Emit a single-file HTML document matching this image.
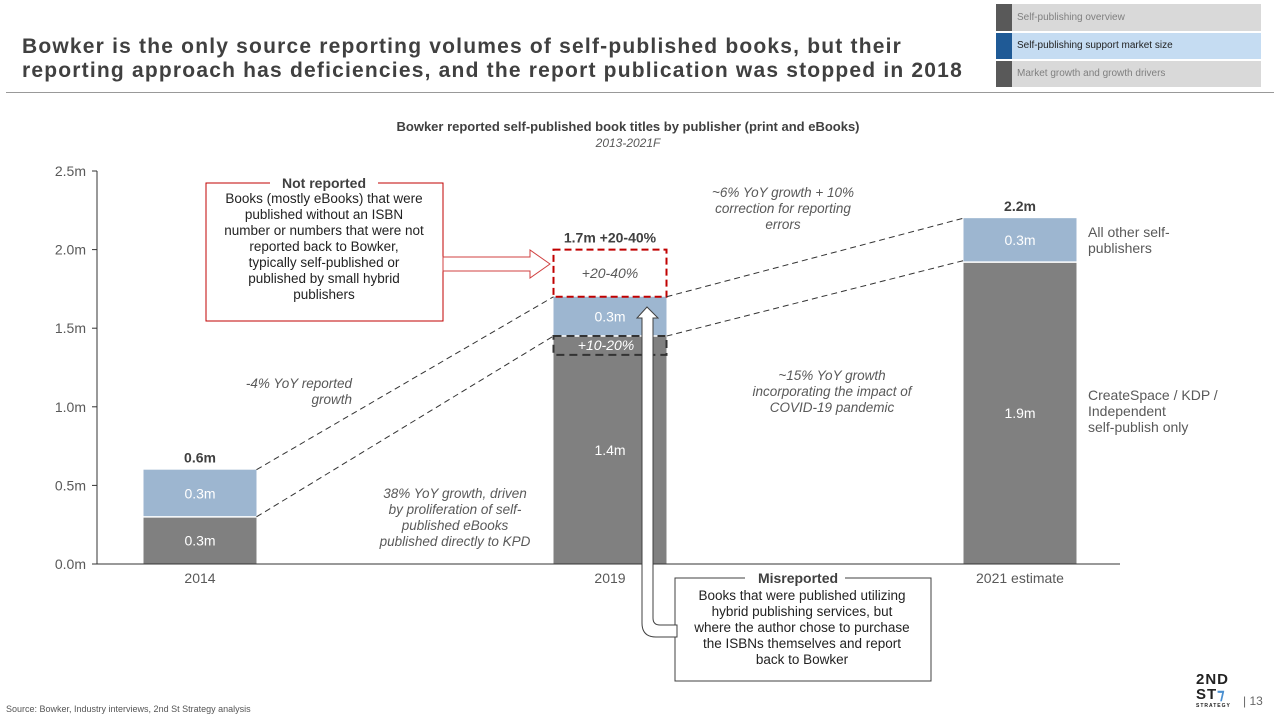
<!DOCTYPE html>
<html><head><meta charset="utf-8"><style>
body{margin:0;width:1280px;height:720px;background:#fff;font-family:"Liberation Sans",Arial,sans-serif;overflow:hidden;position:relative}
.a{position:absolute}
</style></head><body>
<div class="a" style="left:22px;top:35px;font-size:21px;letter-spacing:1.2px;font-weight:bold;color:#404040;line-height:24px;width:970px;white-space:nowrap">Bowker is the only source reporting volumes of self-published books, but their<br>reporting approach has deficiencies, and the report publication was stopped in 2018</div>
<div class="a" style="left:996px;top:4px;width:265px">
 <div style="height:27px;background:#d9d9d9;border-left:16px solid #595959;margin-bottom:2px;font-size:10px;color:#7f7f7f;line-height:27px;padding-left:5px">Self-publishing overview</div>
 <div style="height:26px;background:#c5dcf2;border-left:16px solid #1f5a96;margin-bottom:2px;font-size:10px;color:#222;line-height:26px;padding-left:5px">Self-publishing support market size</div>
 <div style="height:26px;background:#d9d9d9;border-left:16px solid #595959;font-size:10px;color:#7f7f7f;line-height:26px;padding-left:5px">Market growth and growth drivers</div>
</div>
<div class="a" style="left:6px;top:92px;width:1268px;height:1px;background:#999"></div>
<svg class="a" style="left:0;top:0" width="1280" height="720" id="ch" font-family="Liberation Sans, Arial, sans-serif"></svg>
<div class="a" style="left:6px;top:704px;font-size:9px;color:#555">Source: Bowker, Industry interviews, 2nd St Strategy analysis</div>
<div class="a" style="left:1196px;top:672px;font-weight:bold;color:#222;font-size:15px;line-height:15px;letter-spacing:1px">2ND<br>ST<span style="color:#4a8fd0">⁊</span><div style="font-size:5px;line-height:8px;letter-spacing:1px">STRATEGY</div></div>
<div class="a" style="left:1243px;top:694px;font-size:12px;color:#666">| 13</div>
<script>
const categories=["2014","2019","2021 estimate"];
const coreValues=[0.3,1.45,1.92];
const otherValues=[0.3,0.25,0.28];
const coreLabels=["0.3m","1.4m","1.9m"];
const otherLabels=["0.3m","0.3m","0.3m"];
const totalLabels=["0.6m","1.7m +20-40%","2.2m"];
const ticks=[0,0.5,1.0,1.5,2.0,2.5];
const tickLabels=["0.0m","0.5m","1.0m","1.5m","2.0m","2.5m"];
const notReported=[0,0.3,0];
const misreportedBand=[0,0.12,0];
const svg=document.getElementById('ch');const NS='http://www.w3.org/2000/svg';
const y=v=>564-v*157.2;const xc=i=>[200,610,1020][i];const bw=113;
function mk(t,a,p){const e=document.createElementNS(NS,t);for(const k in a)e.setAttribute(k,a[k]);(p||svg).appendChild(e);return e;}
function tx(s,x,yy,o){const e=mk('text',Object.assign({x:x,y:yy,'font-size':13,fill:'#595959','text-anchor':'middle'},o||{}));e.textContent=s;return e;}
let e;
e=tx('Bowker reported self-published book titles by publisher (print and eBooks)',628,131,{'font-weight':'bold','font-size':13,fill:'#404040'});


e=tx('2013-2021F',628,147,{'font-style':'italic','font-size':12});


e=mk('line',{x1:97,x2:97,y1:171,y2:564,stroke:'#333'});


ticks.forEach((t,i)=>{
 e=mk('line',{x1:92,x2:97,y1:y(t),y2:y(t),stroke:'#333'});
 
 
 e=tx(tickLabels[i],86,y(t)+5,{'text-anchor':'end','font-size':14});
 
 
});
categories.forEach((c,i)=>{
 const x0=xc(i)-bw/2;
 e=mk('rect',{x:x0,y:y(coreValues[i]),width:bw,height:y(0)-y(coreValues[i]),fill:'#808080'});
 
 
 const top=coreValues[i]+otherValues[i];
 e=mk('rect',{x:x0,y:y(top),width:bw,height:y(coreValues[i])-y(top),fill:'#9db6d0'});
 
 
 mk('line',{x1:x0,x2:x0+bw,y1:y(coreValues[i]),y2:y(coreValues[i]),stroke:'#fff','stroke-width':1.5});
 e=tx(coreLabels[i],xc(i),(y(coreValues[i])+y(0))/2+5,{fill:'#fff',"font-size":14});
 if(i==1)e.setAttribute('y',455);
 
 
 e=tx(otherLabels[i],xc(i),(y(top)+y(coreValues[i]))/2+5,{fill:'#fff','font-size':14});
 
 
 const ty=notReported[i]?y(top+notReported[i])-7:y(top)-7;
 e=tx(totalLabels[i],xc(i),ty,{'font-weight':'bold','font-size':14,fill:'#404040'});
 
 
 e=tx(c,xc(i),583,{'font-size':14});
 
 
 if(notReported[i]){
  e=mk('rect',{x:x0,y:y(top+notReported[i]),width:bw,height:y(top)-y(top+notReported[i]),fill:'none',stroke:'#c00000','stroke-width':2,'stroke-dasharray':'7,4'});
  
  
  tx('+20-40%',xc(i),(y(top)+y(top+notReported[i]))/2+5,{'font-style':'italic','font-size':14});
 }
 if(misreportedBand[i]){
  e=mk('rect',{x:x0,y:y(coreValues[i]),width:bw,height:y(coreValues[i]-misreportedBand[i])-y(coreValues[i]),fill:'none',stroke:'#333','stroke-width':2,'stroke-dasharray':'8,5'});
  
  
  tx('+10-20%',xc(i)-4,y(coreValues[i])+14,{'font-style':'italic','font-size':14,fill:'#fff'});
 }
});
e=mk('line',{x1:97,x2:1120,y1:564,y2:564,stroke:'#333'});


function dl(i,j,vi,vj){e=mk('line',{x1:xc(i)+bw/2,y1:y(vi),x2:xc(j)-bw/2,y2:y(vj),stroke:'#333','stroke-dasharray':'6,4'});}
dl(0,1,coreValues[0]+otherValues[0],coreValues[1]+otherValues[1]);
dl(0,1,coreValues[0],coreValues[1]);
dl(1,2,coreValues[1]+otherValues[1],coreValues[2]+otherValues[2]);
dl(1,2,coreValues[1],coreValues[2]+0.01);
function ml(lines,x,y0,o){lines.forEach((l,k)=>tx(l,x,y0+k*16,o));}
const it={'font-style':'italic','font-size':13.5};
ml(['-4% YoY reported','growth'],352,388,Object.assign({'text-anchor':'end'},it));
ml(['38% YoY growth, driven','by proliferation of self-','published eBooks','published directly to KPD'],455,498,it);
ml(['~6% YoY growth  + 10%','correction for reporting','errors'],783,197,it);
ml(['~15% YoY growth','incorporating the impact of','COVID-19 pandemic'],832,380,it);
ml(['All other self-','publishers'],1088,237,{'text-anchor':'start','font-size':14});
ml(['CreateSpace / KDP /','Independent','self-publish only'],1088,400,{'text-anchor':'start','font-size':14});
e=mk('rect',{x:206,y:183,width:237,height:138,fill:'#fff',stroke:'#c00000','stroke-width':1});


mk('rect',{x:270,y:176,width:108,height:14,fill:'#fff'});
tx('Not reported',324,188,{'font-weight':'bold','font-size':14,fill:'#404040'});
ml(['Books (mostly eBooks) that were','published without an ISBN','number or numbers that were not','reported back to Bowker,','typically self-published or','published by small hybrid','publishers'],324,203,{'font-size':13.5,fill:'#222'});
e=mk('path',{d:'M443,257 L530,257 L530,250 L550,264 L530,278 L530,271 L443,271 Z',fill:'#fff',stroke:'#d04040','stroke-width':1});


e=mk('rect',{x:675,y:578,width:256,height:103,fill:'#fff',stroke:'#404040','stroke-width':1});


mk('rect',{x:745,y:571,width:100,height:14,fill:'#fff'});
tx('Misreported',798,583,{'font-weight':'bold','font-size':14,fill:'#404040'});
ml(['Books that were published utilizing','hybrid publishing services, but','where the author chose to purchase','the ISBNs themselves and report','back to Bowker'],802,600,{'font-size':13.5,fill:'#222'});
e=mk('path',{d:'M642,318 L637,318 L647,307 L658,318 L653,318 L653,618 Q653,625 660,625 L677,625 L677,637 L656,637 Q642,637 642,623 Z',fill:'#fff',stroke:'#404040','stroke-width':1});


</script>
</body></html>
